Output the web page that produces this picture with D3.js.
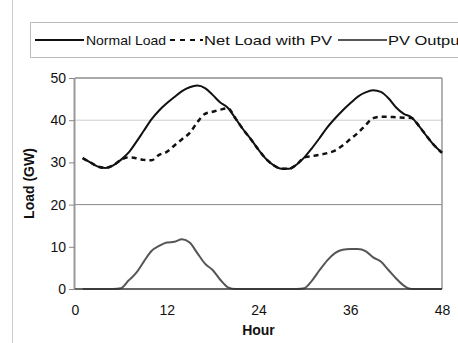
<!DOCTYPE html>
<html>
<head>
<meta charset="utf-8">
<script src="https://cdn.jsdelivr.net/npm/d3@7"></script>
<style>
  body { margin: 0; background: #fff; }
  text { font-family: "Liberation Sans", Arial, sans-serif; fill: #111; }
</style>
</head>
<body>
<svg id="chart" width="458" height="343"></svg>
<script>
// hours of the two-day window
const hours = d3.range(1, 49);

const normalLoad = [31, 30, 29, 28.7, 29.3, 30.6, 32.3, 34.8, 37.5, 40.2, 42.3, 44,
  45.5, 46.9, 47.8, 48.2, 47.6, 46, 44.2, 42.9, 40.4, 37.8, 35.5, 33,
  30.8, 29.3, 28.5, 28.5, 29.5, 31.2, 33.4, 35.8, 38.3, 40.4, 42.3, 44,
  45.6, 46.6, 47.1, 46.7, 45.2, 43, 41.5, 40.7, 38.6, 36.2, 34, 32.3];

const netLoad = [31, 30, 29, 28.7, 29.3, 30.6, 31.2, 31, 30.6, 30.5, 31.8, 32.5,
  34, 35.5, 37, 39.5, 41.5, 42, 42.5, 42.8, 40.4, 37.8, 35.5, 33,
  30.8, 29.3, 28.5, 28.5, 29.5, 31.2, 31.5, 31.8, 32.2, 32.8, 34, 35.5,
  37, 38.8, 40.5, 40.8, 40.8, 40.7, 40.6, 40.5, 38.6, 36.2, 34, 32.3];

const pvOutput = [0, 0, 0, 0, 0, 0.2, 2, 3.8, 6.5, 9, 10.2, 11,
  11.2, 11.8, 11, 8.5, 6, 4.5, 2.2, 0.4, 0, 0, 0, 0,
  0, 0, 0, 0, 0, 0.2, 2, 4.5, 6.8, 8.5, 9.3, 9.5,
  9.5, 9, 7.5, 6.5, 4.5, 2.5, 0.8, 0, 0, 0, 0, 0];

const xTicks = [0, 12, 24, 36, 48];
const yTicks = [0, 10, 20, 30, 40, 50];
const gridValues = [20, 40];

const seriesNames = ['Normal Load', 'Net Load with PV', 'PV Output'];

const svg = d3.select('#chart');

const margin = {left: 75, right: 16, top: 78, bottom: 54};
const width = 458, height = 343;

const x = d3.scaleLinear().domain([0, 48]).range([margin.left, width - margin.right]);
const y = d3.scaleLinear().domain([0, 50]).range([height - margin.bottom, margin.top]);

// outer frame line at far left
svg.append('line')
  .attr('x1', 12.5).attr('x2', 12.5).attr('y1', 0).attr('y2', height)
  .attr('stroke', '#ccc');

// legend box
svg.append('path')
  .attr('d', 'M458,22.5 H30.5 V57.5 H458')
  .attr('fill', 'none')
  .attr('stroke', '#bbb');

// gridlines
svg.append('g').selectAll('line').data(gridValues).join('line')
  .attr('x1', x(0)).attr('x2', x(48))
  .attr('y1', d => y(d)).attr('y2', d => y(d))
  .attr('stroke', d => d === 20 ? '#888' : '#ccc');

// plot borders
svg.append('line')
  .attr('x1', x(0)).attr('x2', x(48)).attr('y1', y(50)).attr('y2', y(50))
  .attr('stroke', '#555');
svg.append('line')
  .attr('x1', x(48)).attr('x2', x(48)).attr('y1', y(50)).attr('y2', y(0))
  .attr('stroke', '#999').attr('stroke-width', 1.5);
svg.append('line')
  .attr('x1', x(0) - 0.5).attr('x2', x(0) - 0.5).attr('y1', y(50)).attr('y2', y(0))
  .attr('stroke', '#999').attr('stroke-width', 2);

// axes
const xAxis = d3.axisBottom(x).tickValues(xTicks).tickSize(0).tickPadding(16);
const yAxis = d3.axisLeft(y).tickValues(yTicks).tickSize(6).tickPadding(3);

const xAxisG = svg.append('g')
  .attr('transform', `translate(0,${y(0)})`)
  .call(xAxis);
xAxisG.select('.domain').remove();
xAxisG.selectAll('text').style('font-size', '14px').attr('fill', '#111');

const yAxisG = svg.append('g')
  .attr('transform', `translate(${x(0)},0)`)
  .call(yAxis);
yAxisG.select('.domain').remove();
yAxisG.selectAll('line').attr('stroke', '#888');
yAxisG.selectAll('text').style('font-size', '14px').attr('fill', '#111');

// axis titles
svg.append('text')
  .attr('x', x(24)).attr('y', 335)
  .attr('text-anchor', 'middle')
  .style('font-size', '14px').style('font-weight', 'bold')
  .text('Hour');

svg.append('text')
  .attr('transform', `translate(34,${y(25)}) rotate(-90)`)
  .attr('text-anchor', 'middle')
  .style('font-size', '14px').style('font-weight', 'bold')
  .text('Load (GW)');

const line = d3.line()
  .x((d, i) => x(hours[i]))
  .y(d => y(d))
  .curve(d3.curveMonotoneX);

// pv output
svg.append('path')
  .datum(pvOutput)
  .attr('d', line)
  .attr('fill', 'none')
  .attr('stroke', '#555')
  .attr('stroke-width', 2);

// x axis baseline
svg.append('line')
  .attr('x1', x(0)).attr('x2', x(48)).attr('y1', y(0)).attr('y2', y(0))
  .attr('stroke', '#333').attr('stroke-width', 1.5);

svg.append('path')
  .datum(netLoad)
  .attr('d', line)
  .attr('fill', 'none')
  .attr('stroke', '#111')
  .attr('stroke-width', 2.5)
  .attr('stroke-dasharray', '5,4');

svg.append('path')
  .datum(normalLoad)
  .attr('d', line)
  .attr('fill', 'none')
  .attr('stroke', '#111')
  .attr('stroke-width', 2);

// legend
const legendItems = [
  {name: seriesNames[0], x1: 35, x2: 84, tx: 86, tw: 80, stroke: '#111', dash: null},
  {name: seriesNames[1], x1: 170, x2: 203, tx: 204, tw: 128, stroke: '#111', dash: '5,5'},
  {name: seriesNames[2], x1: 338, x2: 387, tx: 388, tw: 76, stroke: '#555', dash: null}
];

const legend = svg.append('g');
legend.selectAll('line').data(legendItems).join('line')
  .attr('x1', d => d.x1).attr('x2', d => d.x2)
  .attr('y1', 40).attr('y2', 40)
  .attr('stroke', d => d.stroke)
  .attr('stroke-width', 2)
  .attr('stroke-dasharray', d => d.dash);
legend.selectAll('text').data(legendItems).join('text')
  .attr('x', d => d.tx).attr('y', 45)
  .attr('textLength', d => d.tw)
  .attr('lengthAdjust', 'spacingAndGlyphs')
  .style('font-size', '13px')
  .text(d => d.name);
</script>
</body>
</html>
